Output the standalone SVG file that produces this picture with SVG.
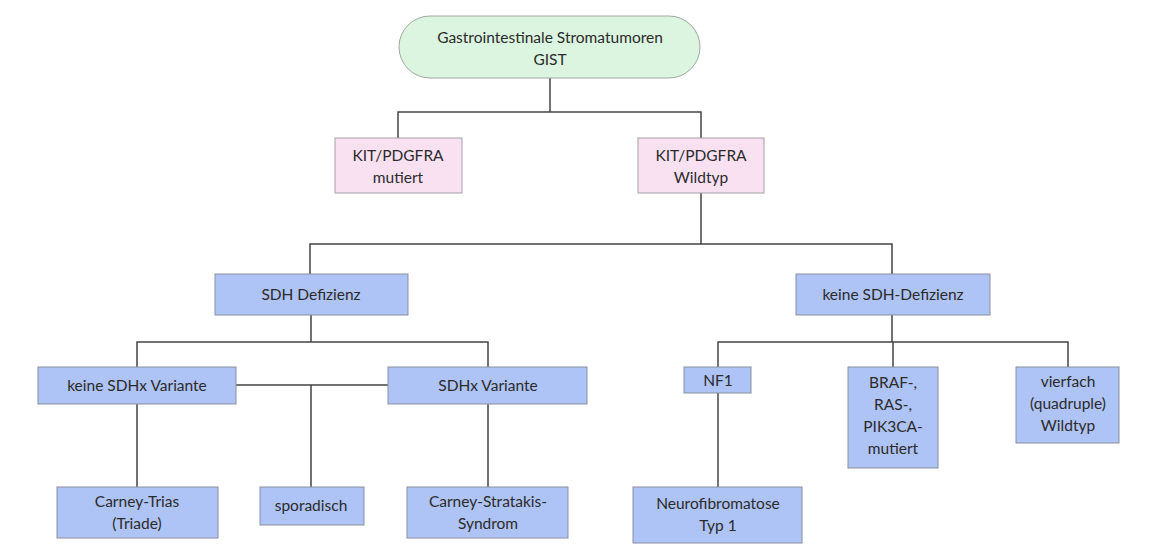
<svg xmlns="http://www.w3.org/2000/svg" width="1160" height="553" viewBox="0 0 1160 553">
<style>
text{font-family:Lato,"Open Sans",sans-serif;font-size:15.5px;fill:#2b2b2b;text-anchor:middle}
.b{fill:#aec3f6;stroke:#8a8f9c;stroke-width:1}
.p{fill:#f9e1f2;stroke:#a5a0a5;stroke-width:1}
.g{fill:#dcf5e0;stroke:#a0a8a0;stroke-width:1}
.c{fill:none;stroke:#444;stroke-width:1.5}
</style>
<rect width="1160" height="553" fill="#fff"/>
<g id="connectors" class="c">
<path class="c" d="M550 78V112M398 138V112H701V138"/>
<path class="c" d="M701 193V244M310 274V244H892V274"/>
<path class="c" d="M311 315V342M137 367V342H488V367"/>
<path class="c" d="M236 385H388M311 385V487"/>
<path class="c" d="M137 404V487M488 404V487"/>
<path class="c" d="M892 315V342M718 367V342H1068V367M893 342V367"/>
<path class="c" d="M718 393V487"/>
</g>
<g id="root"><rect class="g" x="399" y="16" width="301" height="62" rx="31"/><text x="550" y="43">Gastrointestinale Stromatumoren</text><text x="550" y="65">GIST</text></g>
<g id="kit-mut"><rect class="p" x="335" y="138" width="127" height="55"/><text x="398" y="161">KIT/PDGFRA</text><text x="398" y="183">mutiert</text></g>
<g id="kit-wt"><rect class="p" x="638" y="138" width="126" height="55"/><text x="701" y="161">KIT/PDGFRA</text><text x="701" y="183">Wildtyp</text></g>
<g id="sdh"><rect class="b" x="215" y="274" width="193" height="41"/><text x="311" y="300">SDH Defizienz</text></g>
<g id="nosdh"><rect class="b" x="796" y="274" width="194" height="41"/><text x="893" y="300">keine SDH-Defizienz</text></g>
<g id="nosdhx"><rect class="b" x="38" y="367" width="198" height="37"/><text x="137" y="391">keine SDHx Variante</text></g>
<g id="sdhx"><rect class="b" x="388" y="367" width="199" height="37"/><text x="488" y="391">SDHx Variante</text></g>
<g id="nf1"><rect class="b" x="684" y="367" width="67" height="26"/><text x="718" y="386">NF1</text></g>
<g id="braf"><rect class="b" x="848" y="367" width="90" height="101"/><text x="893" y="388">BRAF-,</text><text x="893" y="410">RAS-,</text><text x="893" y="432">PIK3CA-</text><text x="893" y="454">mutiert</text></g>
<g id="quad"><rect class="b" x="1016" y="367" width="103" height="76"/><text x="1068" y="387">vierfach</text><text x="1068" y="409">(quadruple)</text><text x="1068" y="431">Wildtyp</text></g>
<g id="carney"><rect class="b" x="57" y="487" width="161" height="51"/><text x="137" y="507">Carney-Trias</text><text x="137" y="529">(Triade)</text></g>
<g id="spor"><rect class="b" x="260" y="487" width="104" height="38"/><text x="311" y="511">sporadisch</text></g>
<g id="cs"><rect class="b" x="407" y="487" width="161" height="51"/><text x="488" y="507">Carney-Stratakis-</text><text x="488" y="529">Syndrom</text></g>
<g id="nf"><rect class="b" x="633" y="487" width="169" height="56"/><text x="718" y="509">Neurofibromatose</text><text x="718" y="531">Typ 1</text></g>
</svg>
